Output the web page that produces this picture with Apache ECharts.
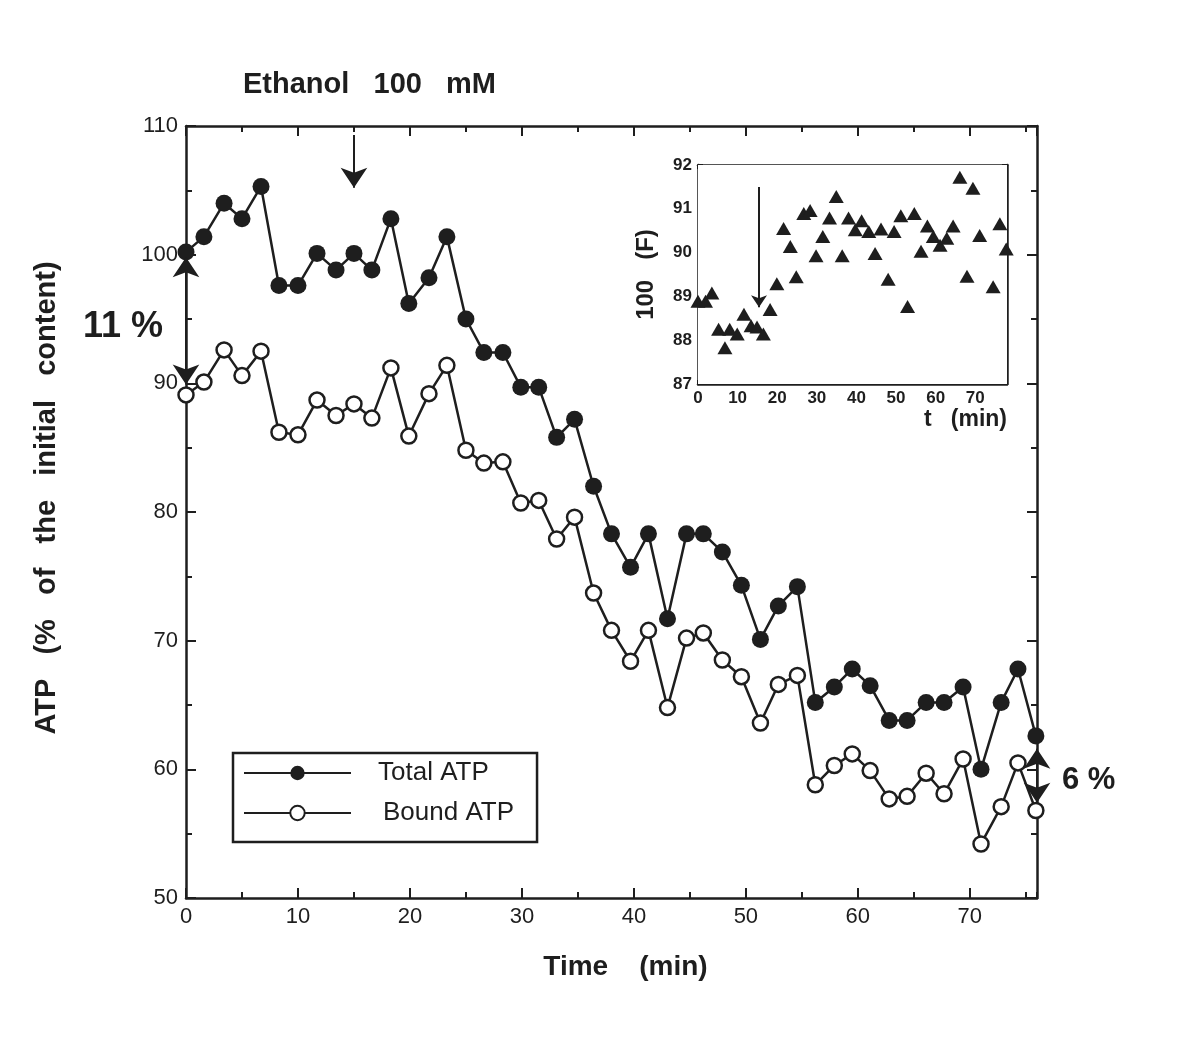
<!DOCTYPE html>
<html>
<head>
<meta charset="utf-8">
<script src="https://cdn.jsdelivr.net/npm/echarts@6/dist/echarts.min.js"></script>
<style>
html,body{margin:0;padding:0;background:#fff;}
#chart{width:1196px;height:1038px;}
</style>
</head>
<body>
<div id="chart"></div>
<script>
// ---------- main chart data ----------
const timeMin = [0,1.6,3.4,5.0,6.7,8.3,10.0,11.7,13.4,15.0,16.6,18.3,19.9,21.7,23.3,25.0,26.6,28.3,29.9,31.5,33.1,34.7,36.4,38.0,39.7,41.3,43.0,44.7,46.2,47.9,49.6,51.3,52.9,54.6,56.2,57.9,59.5,61.1,62.8,64.4,66.1,67.7,69.4,71.0,72.8,74.3,75.9];
const totalATP = [100.2,101.4,104.0,102.8,105.3,97.6,97.6,100.1,98.8,100.1,98.8,102.8,96.2,98.2,101.4,95.0,92.4,92.4,89.7,89.7,85.8,87.2,82.0,78.3,75.7,78.3,71.7,78.3,78.3,76.9,74.3,70.1,72.7,74.2,65.2,66.4,67.8,66.5,63.8,63.8,65.2,65.2,66.4,60.0,65.2,67.8,62.6];
const boundATP = [89.1,90.1,92.6,90.6,92.5,86.2,86.0,88.7,87.5,88.4,87.3,91.2,85.9,89.2,91.4,84.8,83.8,83.9,80.7,80.9,77.9,79.6,73.7,70.8,68.4,70.8,64.8,70.2,70.6,68.5,67.2,63.6,66.6,67.3,58.8,60.3,61.2,59.9,57.7,57.9,59.7,58.1,60.8,54.2,57.1,60.5,56.8];

// ---------- inset data ----------
const insetTime = [0,1.9,3.5,5.2,6.8,8.0,9.9,11.6,13.4,14.9,16.5,18.2,19.9,21.6,23.3,24.8,26.7,28.3,29.8,31.5,33.2,34.9,36.4,38.0,39.7,41.3,43.1,44.7,46.2,48.0,49.5,51.2,52.9,54.6,56.3,57.9,59.4,61.1,62.8,64.4,66.1,67.9,69.4,71.1,74.5,76.2,77.8];
const insetF = [88.89,88.89,89.08,88.25,87.83,88.25,88.14,88.59,88.33,88.30,88.14,88.70,89.29,90.55,90.14,89.45,90.89,90.96,89.93,90.37,90.79,91.28,89.93,90.79,90.52,90.73,90.48,89.98,90.54,89.39,90.48,90.84,88.77,90.89,90.03,90.61,90.37,90.17,90.33,90.61,91.72,89.46,91.47,90.39,89.22,90.66,90.08];

// ---------- axis settings / labels ----------
const mainX = {min: 0, max: 76, major: 10, minor: 5};
const mainY = {min: 50, max: 110, major: 10};
const insetX = {min: 0, max: 78, major: 10};
const insetY = {min: 87, max: 92, major: 1};
const seriesNames = ['Total ATP', 'Bound ATP'];
const xTitle = 'Time    (min)';
const yTitle = 'ATP   (%   of   the   initial   content)';
const insetXTitle = 't   (min)';
const insetYTitle = '100   (F)';
const ethanolNote = 'Ethanol   100   mM';
const ethanolTime = 15;
const insetArrowTime = 15.4;

const INK = '#1e1e1e';
const FONT = '"Liberation Sans", Arial, Helvetica, sans-serif';

function pairs(xs, ys){ return xs.map((x,i)=>[x, ys[i]]); }

const mainAxisCommon = {
  type: 'value', gridIndex: 0,
  axisLine: {show: true, onZero: false, lineStyle: {color: INK, width: 2.5}},
  splitLine: {show: false}
};

const chart = echarts.init(document.getElementById('chart'), null, {renderer: 'canvas'});
const option = {
  animation: false,
  backgroundColor: '#ffffff',
  textStyle: {fontFamily: FONT, color: INK},
  grid: [
    {left: 186, top: 126, width: 851, height: 772, containLabel: false},
    {left: 698, top: 165, width: 309, height: 219, containLabel: false, show: true, backgroundColor: '#ffffff', borderWidth: 0, z: 5}
  ],
  xAxis: [
    Object.assign({}, mainAxisCommon, {
      position: 'bottom', min: mainX.min, max: mainX.max, interval: mainX.major,
      axisTick: {show: true, inside: true, length: 10, lineStyle: {color: INK, width: 2}},
      axisLabel: {fontSize: 22, color: INK, margin: 8, fontFamily: FONT, showMaxLabel: false},
      name: xTitle, nameLocation: 'middle', nameGap: 55,
      nameTextStyle: {fontSize: 28, fontWeight: 'bold', color: INK, fontFamily: FONT, padding: [0, 0, 0, 28]}
    }),
    Object.assign({}, mainAxisCommon, {
      position: 'bottom', min: mainX.min, max: mainX.max, interval: mainX.minor,
      axisLine: {show: false},
      axisTick: {show: true, inside: true, length: 6, lineStyle: {color: INK, width: 2}},
      axisLabel: {show: false}
    }),
    Object.assign({}, mainAxisCommon, {
      position: 'top', min: mainX.min, max: mainX.max, interval: mainX.major,
      axisTick: {show: true, inside: true, length: 10, lineStyle: {color: INK, width: 2}},
      axisLabel: {show: false}
    }),
    Object.assign({}, mainAxisCommon, {
      position: 'top', min: mainX.min, max: mainX.max, interval: mainX.minor,
      axisLine: {show: false},
      axisTick: {show: true, inside: true, length: 6, lineStyle: {color: INK, width: 2}},
      axisLabel: {show: false}
    }),
    {
      type: 'value', gridIndex: 1, position: 'bottom', min: insetX.min, max: insetX.max, interval: insetX.major,
      axisLine: {show: true, onZero: false, lineStyle: {color: INK, width: 2.5}},
      axisTick: {show: true, inside: true, length: 4, lineStyle: {color: INK, width: 2}},
      axisLabel: {fontSize: 17, fontWeight: 'bold', color: INK, margin: 6, fontFamily: FONT, showMaxLabel: false},
      splitLine: {show: false},
      name: insetXTitle, nameLocation: 'end', nameGap: 0,
      nameTextStyle: {fontSize: 23, fontWeight: 'bold', color: INK, fontFamily: FONT, align: 'right', verticalAlign: 'top', padding: [24, 0, 0, 0]}
    },
    {
      type: 'value', gridIndex: 1, position: 'top', min: insetX.min, max: insetX.max, interval: insetX.major,
      axisLine: {show: true, onZero: false, lineStyle: {color: INK, width: 2.5}},
      axisTick: {show: true, inside: true, length: 4, lineStyle: {color: INK, width: 2}},
      axisLabel: {show: false}, splitLine: {show: false}
    }
  ],
  yAxis: [
    Object.assign({}, mainAxisCommon, {
      position: 'left', min: mainY.min, max: mainY.max, interval: mainY.major,
      axisTick: {show: true, inside: true, length: 10, lineStyle: {color: INK, width: 2}},
      minorTick: {show: true, splitNumber: 2, length: 6, lineStyle: {color: INK, width: 2}},
      axisLabel: {fontSize: 22, color: INK, margin: 8, fontFamily: FONT},
      name: yTitle, nameLocation: 'middle', nameGap: 125,
      nameTextStyle: {fontSize: 29, fontWeight: 'bold', color: INK, fontFamily: FONT, padding: [0, 0, 0, 28]}
    }),
    Object.assign({}, mainAxisCommon, {
      position: 'right', min: mainY.min, max: mainY.max, interval: mainY.major,
      axisTick: {show: true, inside: true, length: 10, lineStyle: {color: INK, width: 2}},
      minorTick: {show: true, splitNumber: 2, length: 6, lineStyle: {color: INK, width: 2}},
      axisLabel: {show: false}
    }),
    {
      type: 'value', gridIndex: 1, position: 'left', min: insetY.min, max: insetY.max, interval: insetY.major,
      axisLine: {show: true, onZero: false, lineStyle: {color: INK, width: 2.5}},
      axisTick: {show: true, inside: true, length: 5, lineStyle: {color: INK, width: 2}},
      minorTick: {show: true, splitNumber: 2, length: 3, lineStyle: {color: INK, width: 1.5}},
      axisLabel: {fontSize: 17, fontWeight: 'bold', color: INK, margin: 6, fontFamily: FONT},
      splitLine: {show: false},
      name: insetYTitle, nameLocation: 'middle', nameGap: 40,
      nameTextStyle: {fontSize: 24, fontWeight: 'bold', color: INK, fontFamily: FONT}
    },
    {
      type: 'value', gridIndex: 1, position: 'right', min: insetY.min, max: insetY.max, interval: insetY.major,
      axisLine: {show: true, onZero: false, lineStyle: {color: INK, width: 2.5}},
      axisTick: {show: true, inside: true, length: 5, lineStyle: {color: INK, width: 2}},
      minorTick: {show: true, splitNumber: 2, length: 3, lineStyle: {color: INK, width: 1.5}},
      axisLabel: {show: false}, splitLine: {show: false}
    }
  ],
  legend: {
    orient: 'vertical', left: 233, top: 753,
    padding: [7, 23, 16, 10],
    borderColor: INK, borderWidth: 2.5, backgroundColor: '#fff',
    itemWidth: 107, itemHeight: 18, itemGap: 14,
    selectedMode: false,
    textStyle: {fontSize: 26, color: INK, fontFamily: FONT, lineHeight: 26, padding: [0, 0, 0, 22]},
    data: [
      {name: seriesNames[0]},
      {name: seriesNames[1], textStyle: {padding: [0, 0, 0, 27]}}
    ]
  },
  series: [
    {
      name: seriesNames[0], type: 'line', xAxisIndex: 0, yAxisIndex: 0,
      data: pairs(timeMin, totalATP), clip: false,
      symbol: 'circle', symbolSize: 17,
      itemStyle: {color: INK},
      lineStyle: {color: INK, width: 2.5},
      emphasis: {disabled: true}, z: 3,
      markLine: {
        silent: true, animation: false,
        symbol: ['none', 'arrow'], symbolSize: 20,
        label: {show: false},
        lineStyle: {color: INK, width: 2, type: 'solid'},
        data: [
          [{coord: [ethanolTime, 109.3]}, {coord: [ethanolTime, 105.2]}]
        ]
      }
    },
    {
      name: seriesNames[1], type: 'line', xAxisIndex: 0, yAxisIndex: 0,
      data: pairs(timeMin, boundATP), clip: false,
      symbol: 'circle', symbolSize: 15,
      itemStyle: {color: '#ffffff', borderColor: INK, borderWidth: 2.5},
      lineStyle: {color: INK, width: 2.5},
      emphasis: {disabled: true}, z: 3,
      markLine: {
        silent: true, animation: false,
        symbol: ['arrow', 'arrow'], symbolSize: 20,
        label: {show: false},
        lineStyle: {color: INK, width: 2, type: 'solid'},
        data: [
          [{coord: [0, 99.8]}, {coord: [0, 89.9]}],
          [{coord: [76, 61.6]}, {coord: [76, 57.4]}]
        ]
      }
    },
    {
      name: 'F', type: 'scatter', xAxisIndex: 4, yAxisIndex: 2,
      data: pairs(insetTime, insetF), clip: false,
      symbol: 'triangle', symbolSize: [15, 13],
      itemStyle: {color: INK, opacity: 1},
      emphasis: {disabled: true}, z: 6,
      markLine: {
        silent: true, animation: false,
        symbol: ['none', 'arrow'], symbolSize: 12,
        label: {show: false},
        lineStyle: {color: INK, width: 2, type: 'solid'},
        data: [
          [{coord: [insetArrowTime, 91.5]}, {coord: [insetArrowTime, 88.75]}]
        ]
      }
    }
  ],
  graphic: [
    {type: 'text', left: 243, top: 70, style: {text: ethanolNote, font: 'bold 29px ' + FONT, fill: INK}},
    {type: 'text', left: 83, top: 309, style: {text: '11 %', font: 'bold 36px ' + FONT, fill: INK}},
    {type: 'text', left: 1062, top: 765, style: {text: '6 %', font: 'bold 31px ' + FONT, fill: INK}}
  ]
};
chart.setOption(option);
</script>
</body>
</html>
